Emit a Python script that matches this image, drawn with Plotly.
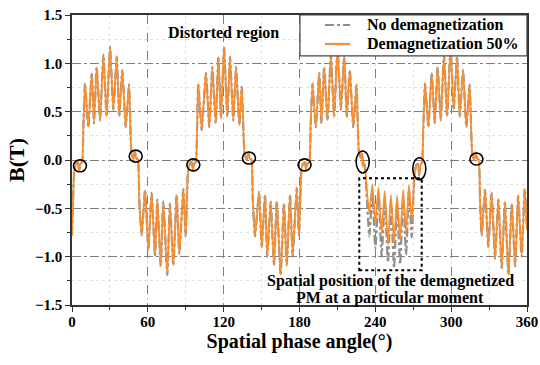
import plotly.graph_objects as go

# ---------------- data ----------------
angle_demag = [
    0.0, 1.8, 3.2, 4.6, 5.6, 6.6, 8.0, 9.0, 10.3, 12.9, 15.6, 17.4, 19.5, 22.2, 24.8, 27.4, 30.1, 32.7,
    35.4, 37.4, 39.8, 42.5, 45.1, 47.0, 48.6, 49.8, 50.8, 52.2, 53.2, 55.1, 57.8, 60.4, 63.0, 65.7,
    67.5, 70.2, 72.2, 75.4, 77.5, 80.2, 82.8, 84.9, 88.1, 89.9, 91.8, 93.2, 94.6, 95.6, 96.6, 98.0,
    99.0, 99.9, 102.6, 106.0, 108.6, 111.0, 113.7, 115.8, 117.9, 120.3, 122.9, 125.0, 127.6, 129.8,
    132.4, 134.3, 136.6, 138.4, 139.5, 140.6, 142.0, 143.0, 144.8, 148.0, 150.1, 152.7, 154.5, 157.2,
    159.8, 162.0, 165.1, 167.7, 169.9, 172.5, 174.6, 177.8, 179.6, 181.6, 183.0, 184.3, 185.2, 186.3,
    187.8, 188.8, 190.3, 192.9, 195.6, 197.4, 199.5, 202.2, 204.8, 207.4, 210.1, 212.7, 215.4, 217.4,
    219.8, 222.5, 225.1, 227.0, 228.5, 229.6, 230.2, 231.0, 232.0, 233.5, 235.3, 237.6, 240.0, 242.5,
    245.0, 247.4, 250.0, 252.3, 254.8, 257.2, 259.6, 262.0, 264.3, 266.6, 268.8, 271.0, 272.5, 273.7,
    274.6, 275.6, 277.0, 278.0, 279.3, 282.0, 284.6, 287.0, 289.3, 291.8, 294.3, 296.8, 299.5, 302.0,
    304.6, 306.8, 309.4, 312.0, 314.6, 316.6, 318.2, 319.3, 320.4, 321.8, 322.8, 324.1, 326.8, 329.4,
    332.0, 334.7, 337.3, 340.0, 342.5, 345.3, 348.0, 350.6, 353.0, 355.8, 358.2, 360.0,
]
b_demag = [
    -0.78, -0.12, -0.04, -0.02, -0.11, -0.04, -0.02, 0.35, 0.79, 0.34, 0.90, 0.38, 0.96, 0.41, 1.09, 0.45, 1.17, 0.52,
    1.07, 0.45, 0.93, 0.34, 0.78, 0.08, 0.01, 0.09, 0.02, 0.00, -0.40, -0.78, -0.31, -0.93, -0.34, -1.00,
    -0.41, -1.10, -0.43, -1.19, -0.45, -1.09, -0.36, -0.97, -0.30, -0.79, -0.12, -0.04, -0.02, -0.11, -0.04, -0.02,
    0.35, 0.79, 0.31, 0.90, 0.34, 0.96, 0.38, 1.07, 0.43, 1.17, 0.45, 1.07, 0.41, 0.96,
    0.36, 0.76, 0.06, 0.00, 0.08, 0.02, 0.00, -0.40, -0.79, -0.33, -0.91, -0.36, -1.00, -0.43,
    -1.09, -0.43, -1.19, -0.45, -1.09, -0.36, -1.00, -0.29, -0.78, -0.10, -0.03, -0.02, -0.10, -0.04,
    -0.02, 0.35, 0.79, 0.34, 0.90, 0.38, 0.96, 0.41, 1.09, 0.45, 1.17, 0.52, 1.07, 0.45,
    0.93, 0.34, 0.78, 0.08, 0.02, 0.07, -0.07, -0.02, -0.10, -0.35, -0.55, -0.25, -0.66, -0.28,
    -0.76, -0.32, -0.88, -0.36, -0.86, -0.37, -0.83, -0.31, -0.76, -0.26, -0.62, -0.15, -0.05, -0.04,
    -0.16, -0.06, -0.02, 0.35, 0.79, 0.34, 0.90, 0.38, 0.96, 0.41, 1.09, 0.45, 1.17, 0.52,
    1.07, 0.45, 0.93, 0.34, 0.78, 0.08, 0.00, 0.08, 0.02, 0.00, -0.40, -0.78, -0.31, -0.90,
    -0.34, -1.02, -0.41, -1.12, -0.43, -1.19, -0.45, -1.10, -0.37, -1.00, -0.30, -0.72,
]
# healthy machine: identical except under the demagnetized pole (233.5 deg .. 271 deg)
angle_healthy = angle_demag
b_healthy = [
    -0.78, -0.12, -0.04, -0.02, -0.11, -0.04, -0.02, 0.35, 0.79, 0.34, 0.90, 0.38, 0.96, 0.41, 1.09, 0.45, 1.17, 0.52,
    1.07, 0.45, 0.93, 0.34, 0.78, 0.08, 0.01, 0.09, 0.02, 0.00, -0.40, -0.78, -0.31, -0.93, -0.34, -1.00,
    -0.41, -1.10, -0.43, -1.19, -0.45, -1.09, -0.36, -0.97, -0.30, -0.79, -0.12, -0.04, -0.02, -0.11, -0.04, -0.02,
    0.35, 0.79, 0.31, 0.90, 0.34, 0.96, 0.38, 1.07, 0.43, 1.17, 0.45, 1.07, 0.41, 0.96,
    0.36, 0.76, 0.06, 0.00, 0.08, 0.02, 0.00, -0.40, -0.79, -0.33, -0.91, -0.36, -1.00, -0.43,
    -1.09, -0.43, -1.19, -0.45, -1.09, -0.36, -1.00, -0.29, -0.78, -0.10, -0.03, -0.02, -0.10, -0.04,
    -0.02, 0.35, 0.79, 0.34, 0.90, 0.38, 0.96, 0.41, 1.09, 0.45, 1.17, 0.52, 1.07, 0.45,
    0.93, 0.34, 0.78, 0.08, 0.02, 0.07, -0.07, -0.02, -0.10, -0.45, -0.79, -0.32, -0.92, -0.35,
    -1.00, -0.42, -1.06, -0.44, -1.12, -0.45, -1.08, -0.37, -0.98, -0.31, -0.80, -0.15, -0.05, -0.04,
    -0.16, -0.06, -0.02, 0.35, 0.79, 0.34, 0.90, 0.38, 0.96, 0.41, 1.09, 0.45, 1.17, 0.52,
    1.07, 0.45, 0.93, 0.34, 0.78, 0.08, 0.00, 0.08, 0.02, 0.00, -0.40, -0.78, -0.31, -0.90,
    -0.34, -1.02, -0.41, -1.12, -0.43, -1.19, -0.45, -1.10, -0.37, -1.00, -0.30, -0.72,
]
# circled distortion spots (angle, B)
circle_angles = [6.3, 50.4, 96.0, 140.0, 184.0, 320.0]
circle_values = [-0.06, 0.04, -0.05, 0.02, -0.05, 0.01]
tall_circle_angles = [230.0, 274.8]
tall_circle_values = [-0.02, -0.09]
# dotted box marking the demagnetized PM
box_angle = [227.3, 276.7]
box_b = [-1.14, -0.19]

series_names = ["No demagnetization", "Demagnetization 50%"]
x_ticks = [0, 60, 120, 180, 240, 300, 360]
y_ticks = [-1.5, -1.0, -0.5, 0.0, 0.5, 1.0, 1.5]

FONT = "Liberation Serif"
ORANGE = "#F58F33"
GRAY = "#8E8E8E"
series_colors = [GRAY, ORANGE]
series_dash = ["dashdot", "solid"]

fig = go.Figure()
fig.add_trace(go.Scatter(
    x=angle_healthy, y=b_healthy, mode="lines", name=series_names[0], showlegend=False,
    line=dict(color=GRAY, width=2.2, dash="dashdot", shape="spline", smoothing=0.5),
))
fig.add_trace(go.Scatter(
    x=angle_demag, y=b_demag, mode="lines", name=series_names[1], showlegend=False,
    line=dict(color=ORANGE, width=1.8, shape="spline", smoothing=0.5),
))

shapes = []
for a, v in zip(circle_angles, circle_values):
    shapes.append(dict(type="circle", xref="x", yref="y", xsizemode="pixel", ysizemode="pixel",
                       xanchor=a, yanchor=v, x0=-6.5, x1=6.5, y0=-6, y1=6,
                       line=dict(color="black", width=1.6)))
for a, v in zip(tall_circle_angles, tall_circle_values):
    shapes.append(dict(type="circle", xref="x", yref="y", xsizemode="pixel", ysizemode="pixel",
                       xanchor=a, yanchor=v, x0=-6.5, x1=6.5, y0=-11, y1=11,
                       line=dict(color="black", width=1.6)))
shapes.append(dict(type="rect", xref="x", yref="y", x0=box_angle[0], x1=box_angle[1],
                   y0=box_b[0], y1=box_b[1], line=dict(color="black", width=2, dash="dot")))

# legend box (white, bordered) in the top-right corner of the plot area
shapes.append(dict(type="rect", xref="paper", yref="paper", x0=0.501, x1=1.0, y0=0.859, y1=1.0,
                   fillcolor="white", line=dict(color="#444", width=1.2), layer="above"))
legend_rows_y = [0.9655, 0.9000]
annotations = []
for name, col, dsh, yy in zip(series_names, series_colors, series_dash, legend_rows_y):
    shapes.append(dict(type="line", xref="paper", yref="paper", x0=0.556, x1=0.611, y0=yy, y1=yy,
                       line=dict(color=col, width=2.2, dash=dsh), layer="above"))
    annotations.append(dict(text=name, x=0.644, y=yy, xref="paper", yref="paper",
                            xanchor="left", yanchor="middle", showarrow=False,
                            font=dict(family=FONT, size=16, weight="bold", color="black")))

annotations += [
    dict(text="Distorted region", x=0.332, y=0.938, xref="paper", yref="paper",
         xanchor="center", yanchor="middle", showarrow=False,
         font=dict(family=FONT, size=16, weight="bold", color="black")),
    dict(text="Spatial position of the demagnetized", x=0.699, y=0.0828, xref="paper", yref="paper",
         xanchor="center", yanchor="middle", showarrow=False,
         font=dict(family=FONT, size=16, weight="bold", color="black")),
    dict(text="PM at a particular moment", x=0.699, y=0.024, xref="paper", yref="paper",
         xanchor="center", yanchor="middle", showarrow=False,
         font=dict(family=FONT, size=16, weight="bold", color="black")),
]

fig.update_layout(
    width=540, height=365,
    margin=dict(l=72, r=13, t=15, b=60, autoexpand=False),
    paper_bgcolor="white", plot_bgcolor="white",
    font=dict(family=FONT, color="black"),
    shapes=shapes,
    annotations=annotations,
    showlegend=False,
)
fig.update_xaxes(
    range=[0, 360], tickvals=x_ticks, ticks="outside", ticklen=5, tickwidth=1.2, automargin=False,
    tickcolor="#333", showline=True, linecolor="#333", linewidth=1.5, mirror=True,
    showgrid=True, gridcolor="#7f7f7f", gridwidth=1, griddash="dash", zeroline=False,
    minor=dict(dtick=30, ticks="outside", ticklen=3, tickcolor="#333", showgrid=True,
               gridcolor="#e2e2e2", griddash="dot"),
    ticklabelstandoff=-3,
    tickfont=dict(family=FONT, size=15, weight="bold", color="black"),
    title=dict(text="Spatial phase angle(°)", standoff=0,
               font=dict(family=FONT, size=20, weight="bold", color="black")),
)
fig.update_yaxes(
    range=[-1.5, 1.5], tickvals=y_ticks, tickformat=".1f", ticks="outside", ticklen=5, automargin=False,
    tickwidth=1.2, tickcolor="#333", showline=True, linecolor="#333", linewidth=1.5, mirror=True,
    showgrid=True, gridcolor="#7f7f7f", gridwidth=1, griddash="dashdot", zeroline=False,
    minor=dict(dtick=0.25, ticks="outside", ticklen=3, tickcolor="#333", showgrid=True,
               gridcolor="#e2e2e2", griddash="dot"),
    tickfont=dict(family=FONT, size=15, weight="bold", color="black"),
    title=dict(text="B(T)", standoff=4,
               font=dict(family=FONT, size=22, weight="bold", color="black")),
)

fig.write_html("out.html")
